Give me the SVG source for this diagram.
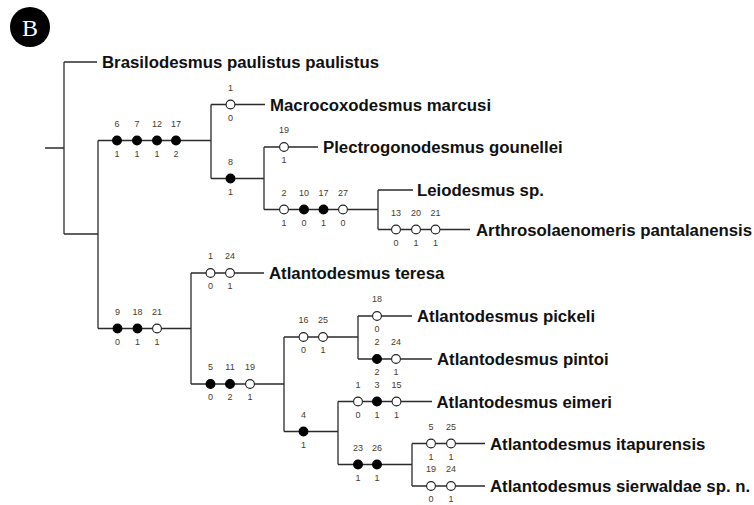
<svg xmlns="http://www.w3.org/2000/svg" width="754" height="505" viewBox="0 0 754 505">
<style>
.ln{stroke:#2b2b2b;stroke-width:1.3;fill:none}
.o{fill:#fff;stroke:#222;stroke-width:1.1}
.f{fill:#000;stroke:#000;stroke-width:1.1}
.tx{font-family:"Liberation Sans",Arial,sans-serif;font-weight:bold;font-size:16.8px;fill:#111}
.n{font-family:"Liberation Sans",Arial,sans-serif;font-size:9px;fill:#4a3a2c;text-anchor:middle}
</style>
<rect width="754" height="505" fill="#fff"/>
<g id="panel-label">
<circle cx="30" cy="27" r="20" fill="#000"/>
<text x="30" y="35.5" font-family="'Liberation Serif','Times New Roman',serif" font-size="24" fill="#fff" text-anchor="middle">B</text>
</g>
<g id="connectors" class="ln">
<path d="M45,148H64M64,62V234M64,62H97M64,234H98M98,140.5V328.5"/>
<path d="M98,140.5H211M211,104.5V178.5M211,104.5H265M211,178.5H264M264,147V209.5M264,147H318M264,209.5H378M378,190V229.5M378,190H413M378,229.5H470"/>
<path d="M98,328.5H191M191,273V384M191,273H264M191,384H284M284,337V431.5M284,337H358M358,316V359M358,316H412M358,359H432M284,431.5H338M338,401.5V464.5M338,401.5H432M338,464.5H412M412,443.5V486M412,443.5H485M412,486H485"/>
</g>
<g id="taxon-brasilodesmus"><text class="tx" x="102" y="68">Brasilodesmus paulistus paulistus</text></g>
<g id="clade-A">
<circle class="f" cx="117" cy="140.5" r="4.4"/><circle class="f" cx="137" cy="140.5" r="4.4"/><circle class="f" cx="157" cy="140.5" r="4.4"/><circle class="f" cx="176" cy="140.5" r="4.4"/>
<text class="n" x="117" y="126.8">6</text><text class="n" x="137" y="126.8">7</text><text class="n" x="157" y="126.8">12</text><text class="n" x="176" y="126.8">17</text>
<text class="n" x="117" y="156.8">1</text><text class="n" x="137" y="156.8">1</text><text class="n" x="157" y="156.8">1</text><text class="n" x="176" y="156.8">2</text>
</g>
<g id="taxon-macrocoxodesmus">
<circle class="o" cx="230.5" cy="104.5" r="4.4"/>
<text class="n" x="230.5" y="90.8">1</text><text class="n" x="230.5" y="120.8">0</text>
<text class="tx" x="270" y="110.5">Macrocoxodesmus marcusi</text>
</g>
<g id="clade-8">
<circle class="f" cx="230.5" cy="178.5" r="4.4"/>
<text class="n" x="230.5" y="164.8">8</text><text class="n" x="230.5" y="194.8">1</text>
</g>
<g id="taxon-plectrogonodesmus">
<circle class="o" cx="284" cy="147" r="4.4"/>
<text class="n" x="284" y="133.3">19</text><text class="n" x="284" y="163.3">1</text>
<text class="tx" x="323" y="153">Plectrogonodesmus gounellei</text>
</g>
<g id="clade-leio-arthro">
<circle class="o" cx="284" cy="209.5" r="4.4"/><circle class="f" cx="304" cy="209.5" r="4.4"/><circle class="f" cx="323.5" cy="209.5" r="4.4"/><circle class="o" cx="343" cy="209.5" r="4.4"/>
<text class="n" x="284" y="195.8">2</text><text class="n" x="304" y="195.8">10</text><text class="n" x="323.5" y="195.8">17</text><text class="n" x="343" y="195.8">27</text>
<text class="n" x="284" y="225.8">1</text><text class="n" x="304" y="225.8">0</text><text class="n" x="323.5" y="225.8">1</text><text class="n" x="343" y="225.8">0</text>
</g>
<g id="taxon-leiodesmus"><text class="tx" x="417" y="196">Leiodesmus sp.</text></g>
<g id="taxon-arthrosolaenomeris">
<circle class="o" cx="396" cy="229.5" r="4.4"/><circle class="o" cx="416" cy="229.5" r="4.4"/><circle class="o" cx="435.5" cy="229.5" r="4.4"/>
<text class="n" x="396" y="215.8">13</text><text class="n" x="416" y="215.8">20</text><text class="n" x="435.5" y="215.8">21</text>
<text class="n" x="396" y="245.8">0</text><text class="n" x="416" y="245.8">1</text><text class="n" x="435.5" y="245.8">1</text>
<text class="tx" x="476" y="235.5">Arthrosolaenomeris pantalanensis</text>
</g>
<g id="clade-atlantodesmus">
<circle class="f" cx="117.5" cy="328.5" r="4.4"/><circle class="f" cx="137.5" cy="328.5" r="4.4"/><circle class="o" cx="157" cy="328.5" r="4.4"/>
<text class="n" x="117.5" y="314.8">9</text><text class="n" x="137.5" y="314.8">18</text><text class="n" x="157" y="314.8">21</text>
<text class="n" x="117.5" y="344.8">0</text><text class="n" x="137.5" y="344.8">1</text><text class="n" x="157" y="344.8">1</text>
</g>
<g id="taxon-teresa">
<circle class="o" cx="210.5" cy="273" r="4.4"/><circle class="o" cx="230" cy="273" r="4.4"/>
<text class="n" x="210.5" y="259.3">1</text><text class="n" x="230" y="259.3">24</text>
<text class="n" x="210.5" y="289.3">0</text><text class="n" x="230" y="289.3">1</text>
<text class="tx" x="269" y="279">Atlantodesmus teresa</text>
</g>
<g id="clade-5-11-19">
<circle class="f" cx="210.5" cy="384" r="4.4"/><circle class="f" cx="230" cy="384" r="4.4"/><circle class="o" cx="250" cy="384" r="4.4"/>
<text class="n" x="210.5" y="370.3">5</text><text class="n" x="230" y="370.3">11</text><text class="n" x="250" y="370.3">19</text>
<text class="n" x="210.5" y="400.3">0</text><text class="n" x="230" y="400.3">2</text><text class="n" x="250" y="400.3">1</text>
</g>
<g id="clade-16-25">
<circle class="o" cx="303.5" cy="337" r="4.4"/><circle class="o" cx="323" cy="337" r="4.4"/>
<text class="n" x="303.5" y="323.3">16</text><text class="n" x="323" y="323.3">25</text>
<text class="n" x="303.5" y="353.3">0</text><text class="n" x="323" y="353.3">1</text>
</g>
<g id="taxon-pickeli">
<circle class="o" cx="377" cy="316" r="4.4"/>
<text class="n" x="377" y="302.3">18</text><text class="n" x="377" y="332.3">0</text>
<text class="tx" x="417" y="322">Atlantodesmus pickeli</text>
</g>
<g id="taxon-pintoi">
<circle class="f" cx="377" cy="359" r="4.4"/><circle class="o" cx="396" cy="359" r="4.4"/>
<text class="n" x="377" y="345.3">2</text><text class="n" x="396" y="345.3">24</text>
<text class="n" x="377" y="375.3">2</text><text class="n" x="396" y="375.3">1</text>
<text class="tx" x="437" y="365">Atlantodesmus pintoi</text>
</g>
<g id="clade-4">
<circle class="f" cx="303.5" cy="431.5" r="4.4"/>
<text class="n" x="303.5" y="417.8">4</text><text class="n" x="303.5" y="447.8">1</text>
</g>
<g id="taxon-eimeri">
<circle class="o" cx="358" cy="401.5" r="4.4"/><circle class="f" cx="377" cy="401.5" r="4.4"/><circle class="o" cx="396.5" cy="401.5" r="4.4"/>
<text class="n" x="358" y="387.8">1</text><text class="n" x="377" y="387.8">3</text><text class="n" x="396.5" y="387.8">15</text>
<text class="n" x="358" y="417.8">0</text><text class="n" x="377" y="417.8">1</text><text class="n" x="396.5" y="417.8">1</text>
<text class="tx" x="436.5" y="407.5">Atlantodesmus eimeri</text>
</g>
<g id="clade-23-26">
<circle class="f" cx="358" cy="464.5" r="4.4"/><circle class="f" cx="377" cy="464.5" r="4.4"/>
<text class="n" x="358" y="450.8">23</text><text class="n" x="377" y="450.8">26</text>
<text class="n" x="358" y="480.8">1</text><text class="n" x="377" y="480.8">1</text>
</g>
<g id="taxon-itapurensis">
<circle class="o" cx="431" cy="443.5" r="4.4"/><circle class="o" cx="451" cy="443.5" r="4.4"/>
<text class="n" x="431" y="429.8">5</text><text class="n" x="451" y="429.8">25</text>
<text class="n" x="431" y="459.8">1</text><text class="n" x="451" y="459.8">1</text>
<text class="tx" x="490" y="449.5">Atlantodesmus itapurensis</text>
</g>
<g id="taxon-sierwaldae">
<circle class="o" cx="431" cy="486" r="4.4"/><circle class="o" cx="451" cy="486" r="4.4"/>
<text class="n" x="431" y="472.3">19</text><text class="n" x="451" y="472.3">24</text>
<text class="n" x="431" y="502.3">0</text><text class="n" x="451" y="502.3">1</text>
<text class="tx" x="490" y="492">Atlantodesmus sierwaldae sp. n.</text>
</g>
</svg>
